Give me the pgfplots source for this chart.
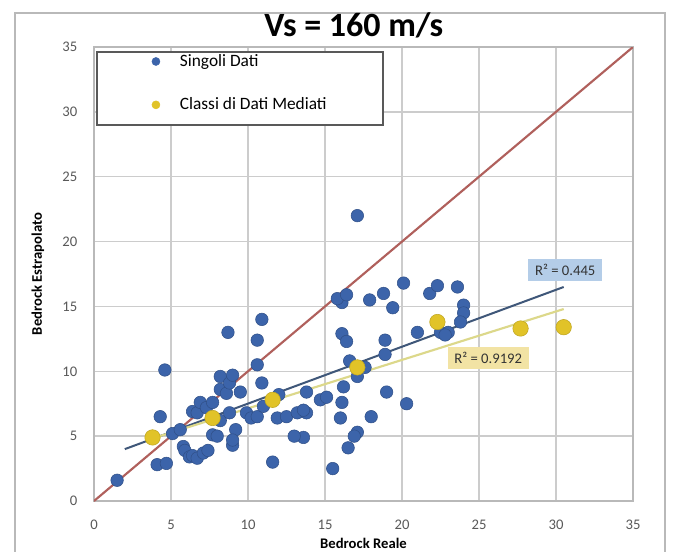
\documentclass[border=0pt]{standalone}
\usepackage{fontspec}
\setmainfont{Carlito}
\usepackage{pgfplots}
\pgfplotsset{compat=1.18}
\definecolor{singoli}{HTML}{3C64AA}
\definecolor{mediati}{HTML}{E1C328}
\definecolor{bisett}{HTML}{B0605C}
\definecolor{trendblu}{HTML}{3F5779}
\definecolor{trendgia}{HTML}{DCD88A}
\definecolor{ticktxt}{HTML}{595959}
\definecolor{boxblu}{HTML}{B4CDE8}
\definecolor{boxgia}{HTML}{F2E3A4}

\begin{document}
\begin{tikzpicture}[x=1pt,y=1pt]
% page = 681x551 px at 0.75pt/px, origin at plot-area lower-left
\useasboundingbox (-70.5,-37.5) rectangle (440.25,375.75);
\fill[white] (-70.5,-37.5) rectangle (440.25,375.75);
\draw[gray!55,line width=1.2pt] (-59.25,-40) -- (-59.25,366) -- (428.25,366) -- (428.25,-40);
\begin{axis}[
    at={(0,0)}, anchor=south west,
    scale only axis, width=404.25pt, height=340.5pt,
    xmin=0, xmax=35, ymin=0, ymax=35,
    xtick={0,5,...,35}, ytick={0,5,...,35},
    grid=major, grid style={line width=1.1pt,draw=gray!40},
    axis line style={draw=gray!55,line width=1.1pt},
    tick style={draw=none},
    /pgf/number format/assume math mode=true,
    ticklabel style={font=\fontsize{11}{13}\selectfont,text=ticktxt},
    xticklabel style={yshift=-11pt},
    yticklabel style={xshift=-9pt},
    xlabel={\textbf{Bedrock Reale}},
    ylabel={\textbf{Bedrock Estrapolato}},
    label style={font=\fontsize{11}{13}\selectfont},
    xlabel style={at={(axis description cs:0.5,-0.093)},anchor=center},
    ylabel style={at={(axis description cs:-0.104,0.5)},anchor=center,rotate=0},
    title={\textbf{Vs = 160 m/s}},
    title style={font=\fontsize{25.5}{28}\selectfont,at={(axis description cs:0.482,1.031)},anchor=center},
    legend style={at={(axis description cs:0.0056,0.99)},anchor=north west,
      draw=none,fill=none,inner sep=0pt,row sep=18pt,
      font=\fontsize{13}{15}\selectfont},
    legend cell align=left,
]
% legend frame
\draw[fill=white,draw=gray!70!black,line width=1.1pt]
  (axis description cs:0.0056,0.989) rectangle (axis description cs:0.536,0.828);

% 1:1 line
\addplot[bisett,line width=1.6pt,forget plot] coordinates {(0,0) (35,35)};

% Singoli Dati
\addplot[only marks,mark=*,mark size=4.7pt,mark options={fill=singoli,draw=singoli!80!black,line width=0.4pt},
  legend image code/.code={\path[draw=none,fill=none] (0pt,-3pt) rectangle (60pt,3pt); \fill[singoli] (44pt,0pt) circle (3pt);}]
coordinates {
(1.5,1.6)
(4.1,2.8) (4.7,2.9) (4.3,6.5) (4.6,10.1)
(5.1,5.2) (5.6,5.5) (5.8,4.2) (5.9,3.9) (6.2,3.4) (6.4,3.5) (6.7,3.3) (7.1,3.7) (7.4,3.9)
(6.4,6.9) (6.7,6.8) (6.9,7.6) (7.3,7.2) (7.7,7.6) (7.7,5.1) (8.2,6.2) (8.0,5.0)
(8.2,8.6) (8.6,8.3) (8.2,9.6) (8.8,9.1) (8.7,13.0) (9.0,9.7) (8.8,6.8) (9.0,4.3) (9.2,5.5) (9.0,4.7) (9.5,8.4)
(9.9,6.8) (10.2,6.4) (10.6,6.5) (10.9,14.0) (10.6,12.4) (10.6,10.5) (10.9,9.1) (11.0,7.3)
(11.6,3.0) (11.9,6.4) (12.5,6.5) (13.2,6.8) (13.8,6.8) (13.6,4.9) (13.0,5.0) (12.0,8.2)
(13.6,7.0) (13.8,8.4) (14.7,7.8) (15.1,8.0) (15.5,2.5) (16.0,6.4) (16.1,7.6) (16.2,8.8)
(16.5,4.1) (17.1,5.3) (16.9,5.0) (17.1,9.6) (18.0,6.5) (19.0,8.4) (20.3,7.5)
(16.1,15.3) (15.8,15.6) (16.4,15.9) (17.1,22.0) (16.1,12.9) (16.4,12.3) (18.9,12.4) (18.9,11.3)
(17.9,15.5) (18.8,16.0) (19.4,14.9) (20.1,16.8) (21.0,13.0) (21.8,16.0) (22.3,16.6)
(22.5,13.0) (23.0,13.0) (23.6,16.5) (24.0,15.1) (24.0,14.5) (23.8,13.8) (22.8,12.8)
(17.6,10.3) (16.6,10.8)
};
\addlegendentry{Singoli Dati}

% Classi di Dati Mediati
\addplot[only marks,mark=*,mark size=5.8pt,mark options={fill=mediati,draw=mediati!85!black,line width=0.4pt},
  legend image code/.code={\path[draw=none,fill=none] (0pt,-3pt) rectangle (60pt,3pt); \fill[mediati] (44pt,0pt) circle (3pt);}]
coordinates {(3.8,4.9) (7.7,6.4) (11.6,7.8) (17.1,10.3) (22.3,13.8) (27.7,13.3) (30.5,13.4)};
\addlegendentry{Classi di Dati Mediati}

% trendlines
\addplot[trendblu,line width=1.5pt,forget plot] coordinates {(2,4.0) (30.5,16.5)};
\addplot[trendgia,line width=1.6pt,forget plot] coordinates {(4,4.9) (30.5,14.8)};

\node[fill=boxblu,text=black!80,font=\fontsize{11}{13}\selectfont,inner xsep=5pt,inner ysep=4pt]
  at (axis cs:30.6,17.8) {R² = 0.445};
\node[fill=boxgia,text=black!80,font=\fontsize{11}{13}\selectfont,inner xsep=5pt,inner ysep=4pt]
  at (axis cs:25.6,11.0) {R² = 0.9192};
\end{axis}
\end{tikzpicture}
\end{document}
